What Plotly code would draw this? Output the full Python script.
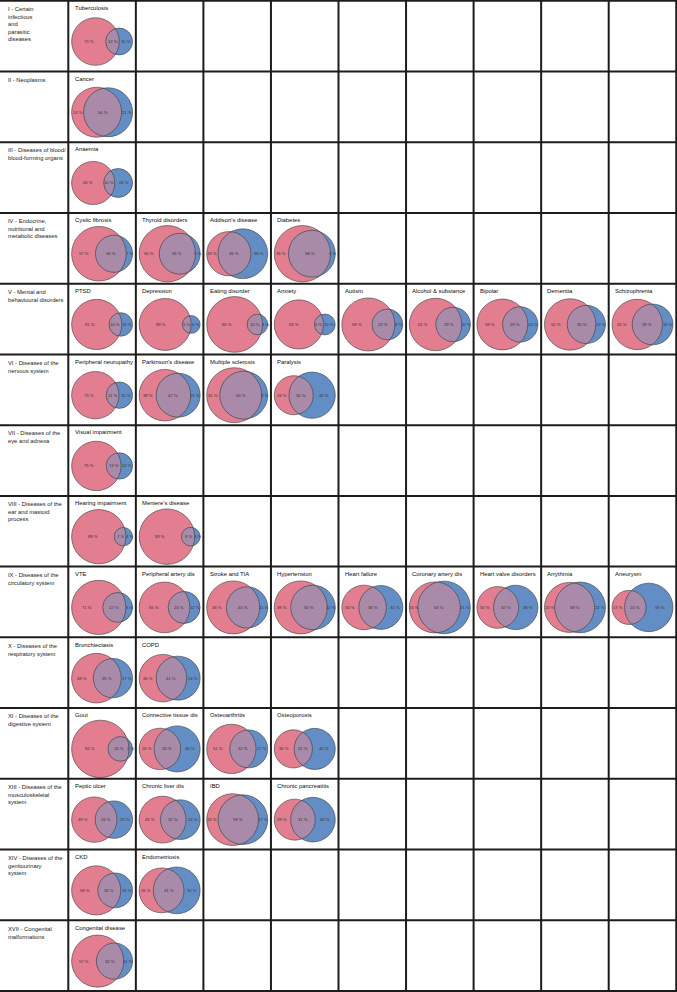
import math
import plotly.graph_objects as go

# ---------------- data ----------------
row_labels = [
    "I - Certain<br>infectious<br>and<br>parasitic<br>diseases",
    "II - Neoplasms",
    "III - Diseases of blood/<br>blood-forming organs",
    "IV - Endocrine,<br>nutritional and<br>metabolic diseases",
    "V - Mental and<br>behavioural disorders",
    "VI - Diseases of the<br>nervous system",
    "VII - Diseases of the<br>eye and adnexa",
    "VIII - Diseases of the<br>ear and mastoid<br>process",
    "IX - Diseases of the<br>circulatory system",
    "X - Diseases of the<br>respiratory system",
    "XI - Diseases of the<br>digestive system",
    "XIII - Diseases of the<br>musculoskeletal<br>system",
    "XIV - Diseases of the<br>genitourinary<br>system",
    "XVII - Congenital<br>malformations",
]

diseases = [
    ["Tuberculosis"],
    ["Cancer"],
    ["Anaemia"],
    ["Cystic fibrosis", "Thyroid disorders", "Addison's disease", "Diabetes"],
    ["PTSD", "Depression", "Eating disorder", "Anxiety", "Autism",
     "Alcohol & substance", "Bipolar", "Dementia", "Schizophrenia"],
    ["Peripheral neuropathy", "Parkinson's disease", "Multiple sclerosis", "Paralysis"],
    ["Visual impairment"],
    ["Hearing impairment", "Meniere's disease"],
    ["VTE", "Peripheral artery dis", "Stroke and TIA", "Hypertension", "Heart failure",
     "Coronary artery dis", "Heart valve disorders", "Arrythmia", "Aneurysm"],
    ["Bronchiectasis", "COPD"],
    ["Gout", "Connective tissue dis", "Osteoarthritis", "Osteoporosis"],
    ["Peptic ulcer", "Chronic liver dis", "IBD", "Chronic pancreatitis"],
    ["CKD", "Endometriosis"],
    ["Congenital disease"],
]

# percentage only in first set (red), overlap, only in second set (blue)
red_only = [
    [73], [24], [66], [57, 50, 19, 35],
    [81, 89, 86, 83, 69, 61, 58, 52, 45],
    [73, 38, 31, 24], [75], [89, 89],
    [71, 65, 46, 38, 33, 16, 30, 20, 17],
    [48, 35], [82, 26, 51, 35], [49, 45, 24, 29], [58, 26], [57],
]
overlap = [
    [12], [54], [10], [36, 45, 45, 58],
    [10, 5, 10, 6, 23, 29, 29, 35, 39],
    [11, 47, 60, 30], [13], [7, 8],
    [22, 23, 43, 50, 36, 63, 32, 58, 24],
    [35, 41], [16, 34, 32, 21], [26, 32, 59, 31], [26, 41], [32],
]
blue_only = [
    [15], [21], [24], [7, 5, 36, 6],
    [10, 6, 3, 10, 8, 10, 13, 13, 16],
    [15, 15, 9, 46], [12], [4, 3],
    [6, 12, 11, 12, 31, 21, 38, 22, 59],
    [17, 24], [2, 40, 17, 44], [25, 23, 17, 40], [16, 32], [11],
]

# ---------------- styling / layout ----------------
W, H = 677, 992
COL0 = 68.3
COLW = 67.55
ROW0 = 0.7
ROWH = 70.74
NCOL = 9
RED = "#E27E8F"
BLUE = "#638EC5"
MIX = "#A98BA9"
EDGE = "#3a3a3a"
GRID = "#1c1c1c"
FONT = "Liberation Sans, Arial, sans-serif"


def lens_area(d, r1, r2):
    if d >= r1 + r2:
        return 0.0
    if d <= abs(r1 - r2):
        return math.pi * min(r1, r2) ** 2
    a1 = math.acos((d * d + r1 * r1 - r2 * r2) / (2 * d * r1))
    a2 = math.acos((d * d + r2 * r2 - r1 * r1) / (2 * d * r2))
    k = (-d + r1 + r2) * (d + r1 - r2) * (d - r1 + r2) * (d + r1 + r2)
    return r1 * r1 * a1 + r2 * r2 * a2 - 0.5 * math.sqrt(max(k, 0))


def solve_d(r1, r2, target):
    lo, hi = abs(r1 - r2) + 1e-9, r1 + r2
    for _ in range(80):
        mid = (lo + hi) / 2
        if lens_area(mid, r1, r2) > target:
            lo = mid
        else:
            hi = mid
    return (lo + hi) / 2


fig = go.Figure()
shapes = []
annotations = []

for ri, lab in enumerate(row_labels):
    top = ROW0 + ri * ROWH
    annotations.append(dict(x=6, y=top + 3.2, text=lab, showarrow=False,
                            xanchor="left", yanchor="top", align="left",
                            font=dict(family=FONT, size=5.8, color="#1a1a1a")))
    for ci, name in enumerate(diseases[ri]):
        left = COL0 + ci * COLW
        a, b, c = red_only[ri][ci], overlap[ri][ci], blue_only[ri][ci]
        r1 = math.sqrt((a + b) / math.pi)
        r2 = math.sqrt((b + c) / math.pi)
        d = solve_d(r1, r2, b)
        total = r1 + d + r2
        s = 61.0 / total
        r1s, r2s, ds = r1 * s, r2 * s, d * s
        xl = left + 3.3
        x1 = xl + r1s
        x2 = x1 + ds
        cy = top + 40.8

        # fills
        shapes.append(dict(type="circle", x0=x1 - r1s, x1=x1 + r1s, y0=cy - r1s, y1=cy + r1s,
                           fillcolor=RED, line=dict(width=0), layer="above"))
        shapes.append(dict(type="circle", x0=x2 - r2s, x1=x2 + r2s, y0=cy - r2s, y1=cy + r2s,
                           fillcolor=BLUE, line=dict(width=0), layer="above"))
        # lens
        al1 = math.acos(max(-1, min(1, (ds * ds + r1s * r1s - r2s * r2s) / (2 * ds * r1s))))
        al2 = math.acos(max(-1, min(1, (ds * ds + r2s * r2s - r1s * r1s) / (2 * ds * r2s))))
        pts = []
        n = 40
        for k in range(n + 1):
            t = -al1 + 2 * al1 * k / n
            pts.append((x1 + r1s * math.cos(t), cy + r1s * math.sin(t)))
        for k in range(n + 1):
            t = math.pi - al2 + 2 * al2 * k / n
            pts.append((x2 + r2s * math.cos(t), cy + r2s * math.sin(t)))
        path = "M " + " L ".join(f"{px:.2f},{py:.2f}" for px, py in pts) + " Z"
        shapes.append(dict(type="path", path=path, fillcolor=MIX, line=dict(width=0), layer="above"))
        # outlines
        shapes.append(dict(type="circle", x0=x1 - r1s, x1=x1 + r1s, y0=cy - r1s, y1=cy + r1s,
                           line=dict(width=0.6, color=EDGE), layer="above"))
        shapes.append(dict(type="circle", x0=x2 - r2s, x1=x2 + r2s, y0=cy - r2s, y1=cy + r2s,
                           line=dict(width=0.6, color=EDGE), layer="above"))

        # labels
        lx_red = ((x1 - r1s) + (x2 - r2s)) / 2
        lx_mid = ((x2 - r2s) + (x1 + r1s)) / 2
        lx_blue = ((x1 + r1s) + (x2 + r2s)) / 2
        for lx, val in ((lx_red, a), (lx_mid, b), (lx_blue, c)):
            annotations.append(dict(x=lx, y=cy, text=f"{val} %", showarrow=False,
                                    xanchor="center", yanchor="middle",
                                    font=dict(family=FONT, size=4.2, color="#333333")))
        annotations.append(dict(x=left + 4.3, y=top + 7.2, text=name, showarrow=False,
                                xanchor="left", yanchor="middle",
                                font=dict(family=FONT, size=5.9, color="#0d0d0d")))

# grid lines
nrows = len(row_labels)
for k in range(nrows + 1):
    y = ROW0 + k * ROWH
    shapes.append(dict(type="line", x0=0, x1=W, y0=y, y1=y, line=dict(width=2, color=GRID), layer="above"))
for k in range(NCOL + 1):
    x = COL0 + k * COLW
    shapes.append(dict(type="line", x0=x, x1=x, y0=ROW0, y1=ROW0 + nrows * ROWH,
                       line=dict(width=2, color=GRID), layer="above"))

fig.update_layout(
    width=W, height=H,
    margin=dict(l=0, r=0, t=0, b=0),
    paper_bgcolor="white", plot_bgcolor="white",
    xaxis=dict(range=[0, W], visible=False, fixedrange=True),
    yaxis=dict(range=[H, 0], visible=False, fixedrange=True),
    shapes=shapes, annotations=annotations, showlegend=False,
)

fig.write_html(
    "out.html",
    config={"displayModeBar": False},
    post_script="document.body.style.margin='0';document.body.style.padding='0';"
                "document.body.style.overflow='hidden';",
)
